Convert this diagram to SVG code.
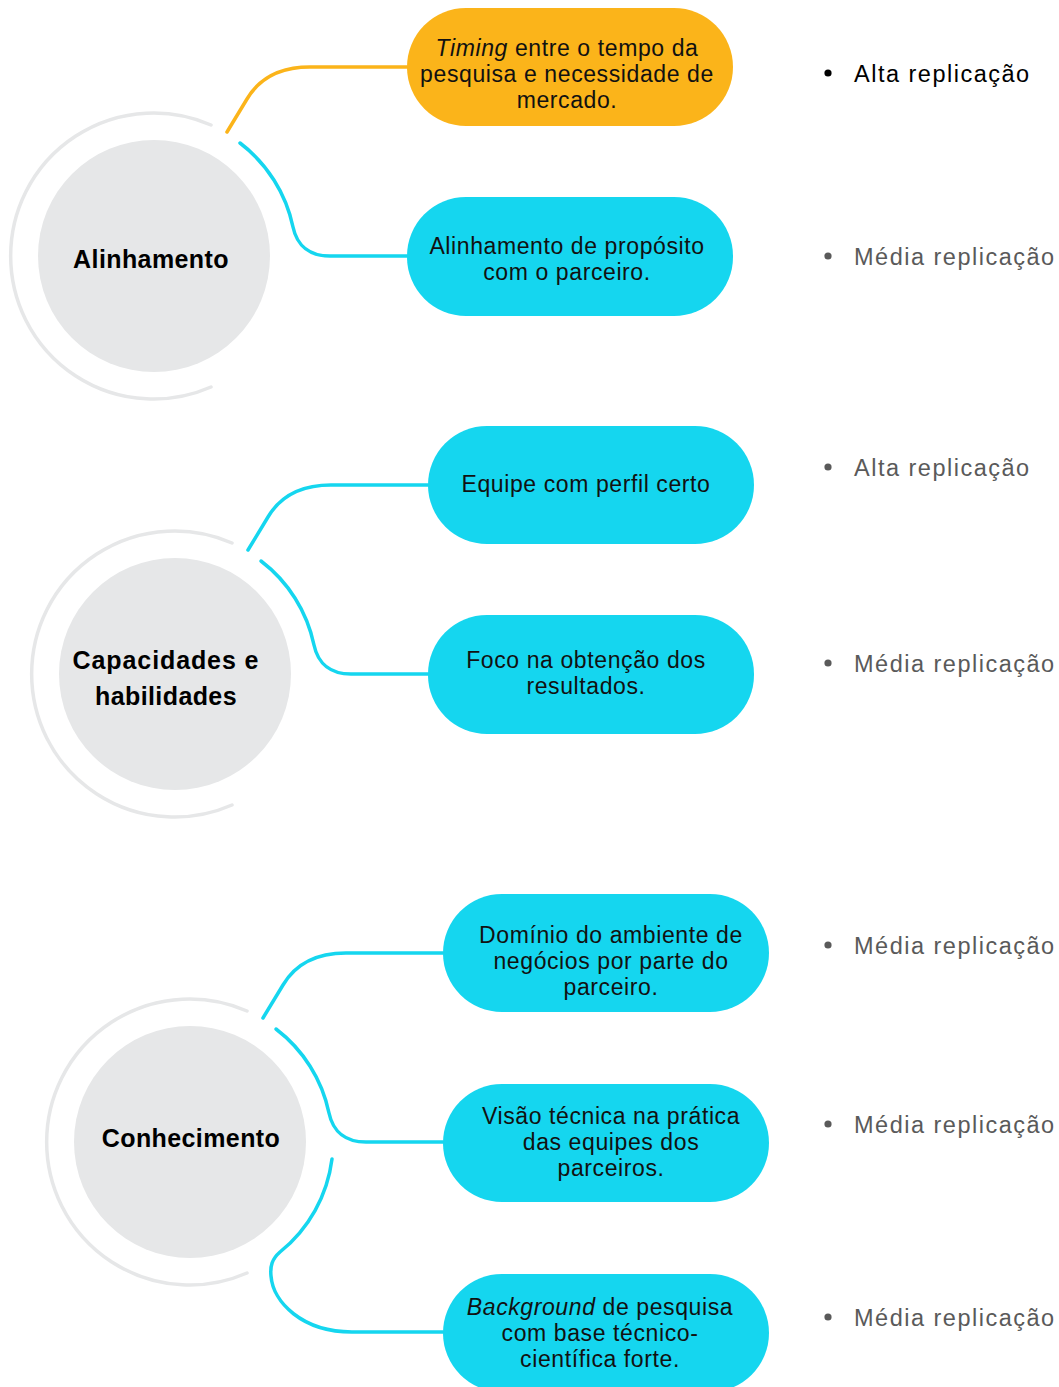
<svg xmlns="http://www.w3.org/2000/svg" width="1059" height="1387" viewBox="0 0 1059 1387">
  <style>
    .hub { fill: #E6E7E8; }
    .ring { fill: none; stroke: #E6E7E8; stroke-width: 3.5; stroke-linecap: round; }
    .pill-y { fill: #FBB41A; }
    .pill-c { fill: #15D6EF; }
    .conn { fill: none; stroke-width: 3.5; stroke-linecap: round; stroke-linejoin: round; }
    .conn-y { stroke: #FBB41A; }
    .conn-c { stroke: #15D6EF; }
    text { font-family: "Liberation Sans", Arial, sans-serif; }
    .title { font-size: 25px; font-weight: bold; letter-spacing: 0.4px; fill: #000; text-anchor: middle; }
    .title.wide { letter-spacing: 0.9px; }
    .lbl { font-size: 23px; letter-spacing: 0.6px; fill: #111; text-anchor: middle; }
    .note { font-size: 23.5px; letter-spacing: 1.5px; fill: #5a5a5a; }
    .note.hi { fill: #000; }
    .dot { fill: #5a5a5a; }
    .dot.hi { fill: #000; }
    .it { font-style: italic; }
  </style>

  <!-- connectors from each hub to its pills -->
  <g id="connectors">
    <path class="conn conn-y" d="M227,132 L247,99 Q266,67 310,67 L407,67"/>
    <path class="conn conn-c" d="M240,143 A142,142 0 0 1 293,227 C297,246 310,256 330,256 L407,256"/>

    <path class="conn conn-c" d="M248,550 L268,517 Q287,485 331,485 L428,485"/>
    <path class="conn conn-c" d="M261,561 A142,142 0 0 1 314,645 C318,664 331,674 351,674 L428,674"/>

    <path class="conn conn-c" d="M263,1018 L283,985 Q302,953 346,953 L443,953"/>
    <path class="conn conn-c" d="M276,1029 A142,142 0 0 1 329,1113 C333,1132 346,1142 366,1142 L443,1142"/>
    <path class="conn conn-c" d="M332,1159 A142,142 0 0 1 280,1252 C272,1259 270,1266 271,1276 C273,1302 302,1332 352,1332 L443,1332"/>
  </g>

  <!-- hub: Alinhamento -->
  <g id="hub-alinhamento">
    <path class="ring" d="M211,125 A143,143 0 1 0 211,387"/>
    <circle class="hub" cx="154" cy="256" r="116"/>
    <text class="title" x="151" y="268">Alinhamento</text>
  </g>

  <!-- hub: Capacidades e habilidades -->
  <g id="hub-capacidades">
    <path class="ring" d="M232,543 A143,143 0 1 0 232,805"/>
    <circle class="hub" cx="175" cy="674" r="116"/>
    <text class="title wide" x="166" y="669">Capacidades e</text>
    <text class="title" x="166" y="705">habilidades</text>
  </g>

  <!-- hub: Conhecimento -->
  <g id="hub-conhecimento">
    <path class="ring" d="M247,1011 A143,143 0 1 0 247,1273"/>
    <circle class="hub" cx="190" cy="1142" r="116"/>
    <text class="title" x="191" y="1147">Conhecimento</text>
  </g>

  <!-- pills -->
  <g id="pill-timing">
    <rect class="pill-y" x="407" y="8" width="326" height="118" rx="59"/>
    <text class="lbl" x="567" y="56"><tspan class="it">Timing</tspan> entre o tempo da</text>
    <text class="lbl" x="567" y="82">pesquisa e necessidade de</text>
    <text class="lbl" x="567" y="108">mercado.</text>
  </g>

  <g id="pill-proposito">
    <rect class="pill-c" x="407" y="197" width="326" height="119" rx="59"/>
    <text class="lbl" x="567" y="254">Alinhamento de propósito</text>
    <text class="lbl" x="567" y="280">com o parceiro.</text>
  </g>

  <g id="pill-equipe">
    <rect class="pill-c" x="428" y="426" width="326" height="118" rx="59"/>
    <text class="lbl" x="586" y="492">Equipe com perfil certo</text>
  </g>

  <g id="pill-foco">
    <rect class="pill-c" x="428" y="615" width="326" height="119" rx="59"/>
    <text class="lbl" x="586" y="668">Foco na obtenção dos</text>
    <text class="lbl" x="586" y="694">resultados.</text>
  </g>

  <g id="pill-dominio">
    <rect class="pill-c" x="443" y="894" width="326" height="118" rx="59"/>
    <text class="lbl" x="611" y="943">Domínio do ambiente de</text>
    <text class="lbl" x="611" y="969">negócios por parte do</text>
    <text class="lbl" x="611" y="995">parceiro.</text>
  </g>

  <g id="pill-visao">
    <rect class="pill-c" x="443" y="1084" width="326" height="118" rx="59"/>
    <text class="lbl" x="611" y="1124">Visão técnica na prática</text>
    <text class="lbl" x="611" y="1150">das equipes dos</text>
    <text class="lbl" x="611" y="1176">parceiros.</text>
  </g>

  <g id="pill-background">
    <rect class="pill-c" x="443" y="1274" width="326" height="118" rx="59"/>
    <text class="lbl" x="600" y="1315"><tspan class="it">Background</tspan> de pesquisa</text>
    <text class="lbl" x="600" y="1341">com base técnico-</text>
    <text class="lbl" x="600" y="1367">científica forte.</text>
  </g>

  <!-- replication notes -->
  <g id="notes">
    <circle class="dot hi" cx="828" cy="73" r="3.6"/>
    <text class="note hi" x="854" y="82">Alta replicação</text>
    <circle class="dot" cx="828" cy="256" r="3.6"/>
    <text class="note" x="854" y="265">Média replicação</text>

    <circle class="dot" cx="828" cy="467" r="3.6"/>
    <text class="note" x="854" y="476">Alta replicação</text>
    <circle class="dot" cx="828" cy="663" r="3.6"/>
    <text class="note" x="854" y="672">Média replicação</text>

    <circle class="dot" cx="828" cy="945" r="3.6"/>
    <text class="note" x="854" y="954">Média replicação</text>
    <circle class="dot" cx="828" cy="1124" r="3.6"/>
    <text class="note" x="854" y="1133">Média replicação</text>
    <circle class="dot" cx="828" cy="1317" r="3.6"/>
    <text class="note" x="854" y="1326">Média replicação</text>
  </g>
</svg>
